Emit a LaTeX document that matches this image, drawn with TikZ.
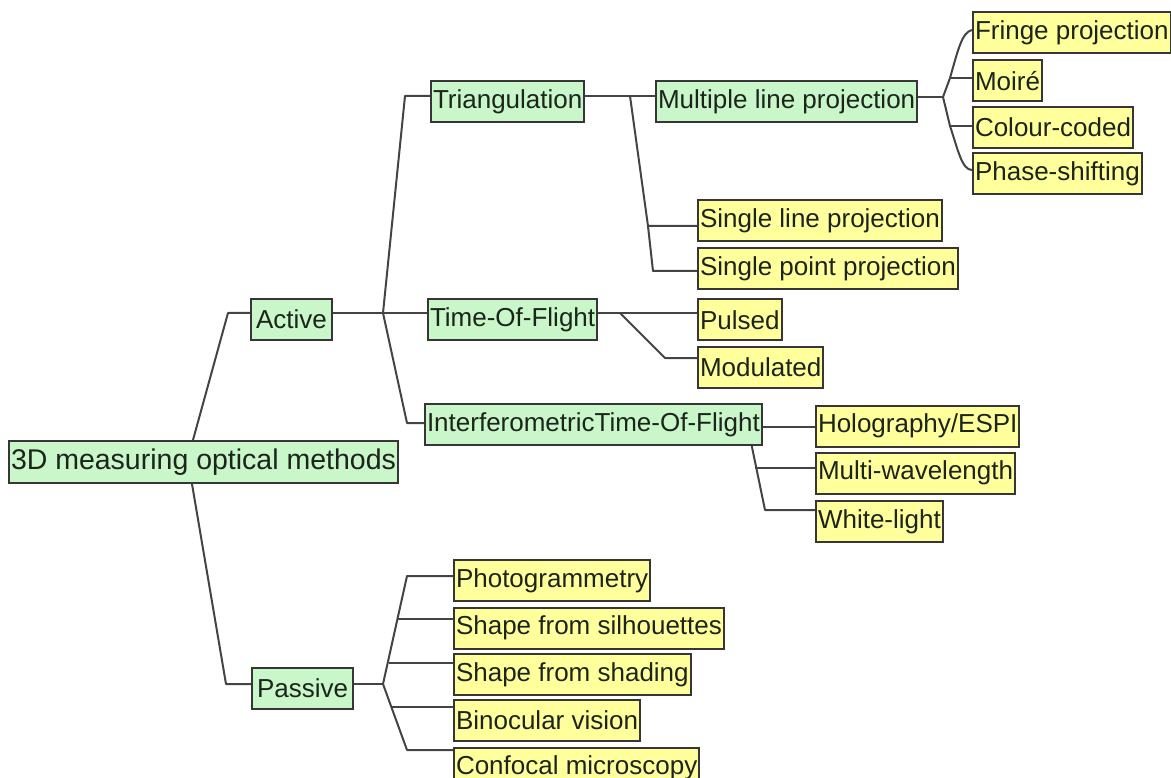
\documentclass[tikz,border=0pt]{standalone}
\usepackage{fontspec}
\setmainfont{Liberation Sans}
\definecolor{boxgreen}{HTML}{C9F7C9}
\definecolor{boxyellow}{HTML}{FFFF9C}
\definecolor{edgec}{HTML}{363636}
\definecolor{linc}{HTML}{444444}
\definecolor{txtc}{HTML}{1C241C}
\begin{document}
\begin{tikzpicture}[x=1pt,y=-1pt,
 box/.style={draw=edgec, line width=2pt, anchor=west, minimum height=41pt,
   inner xsep=2pt, inner ysep=0pt, font=\fontsize{26}{30}\selectfont, text=txtc},
 gbox/.style={box, fill=boxgreen},
 ybox/.style={box, fill=boxyellow},
 conn/.style={draw=linc, line width=2pt, line join=round}]
\useasboundingbox (0,0) rectangle (1171,778);
\clip (0,0) rectangle (1171,778);

% nodes
\node[gbox, minimum height=42pt, font=\fontsize{28.5}{32}\selectfont] (root) at (8,462) {3D measuring optical methods};
\node[gbox, inner xsep=5pt] (active) at (250,319.5) {Active};
\node[gbox, inner xsep=5pt] (passive) at (251,688.5) {Passive};
\node[gbox] (tri) at (430,101.5) {Triangulation};
\node[gbox] (tof) at (427,320) {Time-Of-Flight};
\node[gbox] (itof) at (424,424.5) {InterferometricTime-Of-Flight};
\node[gbox] (mlp) at (655,101.5) {Multiple line projection};
\node[ybox] (slp) at (697,221) {Single line projection};
\node[ybox] (spp) at (697,269) {Single point projection};
\node[ybox] (pulsed) at (697,320) {Pulsed};
\node[ybox] (mod) at (697,367.5) {Modulated};
\node[ybox] (fringe) at (972,33) {Fringe projection};
\node[ybox] (moire) at (972,81) {Moiré};
\node[ybox] (colour) at (972,127.5) {Colour-coded};
\node[ybox] (phase) at (972,174) {Phase-shifting};
\node[ybox] (holo) at (815,426) {Holography/ESPI};
\node[ybox] (multiw) at (815,473) {Multi-wavelength};
\node[ybox] (white) at (815,521.5) {White-light};
\node[ybox] (photo) at (453,580.5) {Photogrammetry};
\node[ybox] (silh) at (453,628) {Shape from silhouettes};
\node[ybox] (shading) at (453,674.5) {Shape from shading};
\node[ybox] (binoc) at (453,720.5) {Binocular vision};
\node[ybox] (confocal) at (453,768) {Confocal microscopy};

% junctions
\coordinate (ja) at (383,313);
\coordinate (jt) at (630,96);
\coordinate (jf) at (620,313);
\coordinate (ji) at (755,468);
\coordinate (jm) at (943,97);
\coordinate (jp) at (383,684);

% root
\draw[conn] ([xshift=185pt]root.north west) -- (228,313) -- ([yshift=6.5pt]active.west);
\draw[conn] ([xshift=184pt]root.south west) -- (226,684) -- ([yshift=4.5pt]passive.west);

% active
\draw[conn] ([yshift=6.5pt]active.east) -- (ja) -- ([yshift=7pt]tof.west);
\draw[conn] (ja) -- (405,96) -- ([yshift=5.5pt]tri.west);
\draw[conn] (ja) -- (407,423) -- ([yshift=1.5pt]itof.west);

% triangulation
\draw[conn] ([yshift=5.5pt]tri.east) -- (jt) -- ([yshift=5.5pt]mlp.west);
\draw[conn] (jt) -- (648,226) -- ([yshift=-5pt]slp.west);
\draw[conn] (648,226) -- (653,271) -- ([yshift=-2pt]spp.west);

% time of flight
\draw[conn] ([yshift=7pt]tof.east) -- (jf) -- ([yshift=7pt]pulsed.west);
\draw[conn] (jf) -- (665,358) -- ([yshift=9.5pt]mod.west);

% interferometric
\draw[conn] ([yshift=-2.5pt]itof.east) -- ([yshift=-1pt]holo.west);
\draw[conn] ([xshift=-11pt]itof.south east) -- (765,510) -- ([yshift=11.5pt]white.west);
\draw[conn] (ji) -- ([yshift=5pt]multiw.west);

% multiple line projection
\draw[conn] ([yshift=4.5pt]mlp.east) -- (jm);
\draw[conn] (jm) -- (950,78) .. controls (958,50) and (962,32) .. ([yshift=3pt]fringe.west);
\draw[conn] (950,78) -- ([yshift=3pt]moire.west);
\draw[conn] (jm) -- (950,126) .. controls (958,150) and (962,170) .. ([yshift=4pt]phase.west);
\draw[conn] (950,126) -- ([yshift=1.5pt]colour.west);

% passive
\draw[conn] ([yshift=4.5pt]passive.east) -- (jp);
\draw[conn] (jp) -- (407,576) -- ([yshift=4.5pt]photo.west);
\draw[conn] (398,619) -- ([yshift=9pt]silh.west);
\draw[conn] (389,663) -- ([yshift=11.5pt]shading.west);
\draw[conn] (jp) -- (407,750) -- ([yshift=18pt]confocal.west);
\draw[conn] (392,707) -- ([yshift=13.5pt]binoc.west);
\end{tikzpicture}
\end{document}
